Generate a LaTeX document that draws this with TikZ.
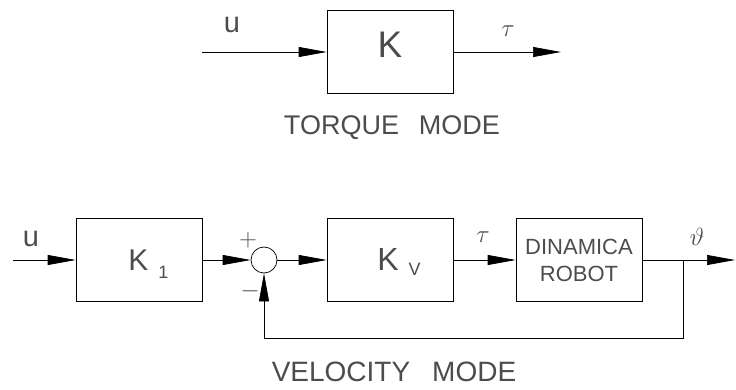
\documentclass[tikz,border=0pt]{standalone}
\usepackage{fontspec}
\setmainfont{Liberation Sans}
\usetikzlibrary{arrows.meta, positioning}
\newcommand{\cadsize}[1]{\fontsize{#1}{#1}\selectfont}

\begin{document}
\begin{tikzpicture}[
                x=1pt, y=-1pt,
                block/.style={rectangle, draw, minimum width=126pt, minimum height=83pt, align=center, inner sep=0pt, text=black!70},
                sumnode/.style={circle, draw, minimum size=26pt, inner sep=0pt},
                lbl/.style={inner sep=0pt, text=black!70},
                >={Triangle[length=28pt, width=10pt]},
                line width=0.7pt
            ]
                \useasboundingbox (0,0) rectangle (736,390);

                % torque mode
                \coordinate (tin) at (202,52);
                \node[block] (k) at (390,52) {};
                \node[lbl, anchor=base] (ktxt) at (390,58) {\cadsize{37}K};
                \coordinate (tout) at (561,52);
                \node[lbl] (tu) at (232,25) {\cadsize{29}u};
                \node[lbl] (ttau) at (508,31) {\cadsize{34}$\tau$};
                \node[lbl, anchor=base] (torque) at (392,135) {\cadsize{27}TORQUE\hspace{20pt}MODE};

                \draw[->] (tin) -- (k);
                \draw[->] (k) -- (tout);

                % velocity mode
                \coordinate (vin) at (13,260);
                \node[block] (k1) at (139,260) {};
                \node[lbl, anchor=base west] (k1txt) at (128,270) {\cadsize{30}K\hspace{10pt}\raisebox{-8pt}{\cadsize{18}1}};
                \node[sumnode] (sum) at (264,260) {};
                \node[lbl] (plus) at (248,240) {\cadsize{26}$+$};
                \node[lbl] (minus) at (250,291) {\cadsize{26}$-$};
                \node[block] (kv) at (390,260) {};
                \node[lbl, anchor=base west] (kvtxt) at (377,270) {\cadsize{32}K\hspace{10pt}\raisebox{-5pt}{\cadsize{18}V}};
                \node[block, font=\fontsize{22}{27}\selectfont] (robot) at (579,260) {DINAMICA\\ROBOT};
                \coordinate (br) at (683,260);
                \coordinate (vout) at (735,260);
                \coordinate (fb) at (683,338);
                \node[lbl] (vu) at (31,239) {\cadsize{29}u};
                \node[lbl] (vtau) at (483,237) {\cadsize{34}$\tau$};
                \node[lbl] (theta) at (697,237) {\cadsize{32}$\vartheta$};
                \node[lbl, anchor=base] (velocity) at (394,381) {\cadsize{28}VELOCITY\hspace{22pt}MODE};

                \draw[->] (vin) -- (k1);
                \draw[->] (k1) -- (sum);
                \draw[->] (sum) -- (kv);
                \draw[->] (kv) -- (robot);
                \draw (robot) -- (br);
                \draw[->] (br) -- (vout);
                \draw[->] (br) -- (fb) -| (sum);
            \end{tikzpicture}
\end{document}
